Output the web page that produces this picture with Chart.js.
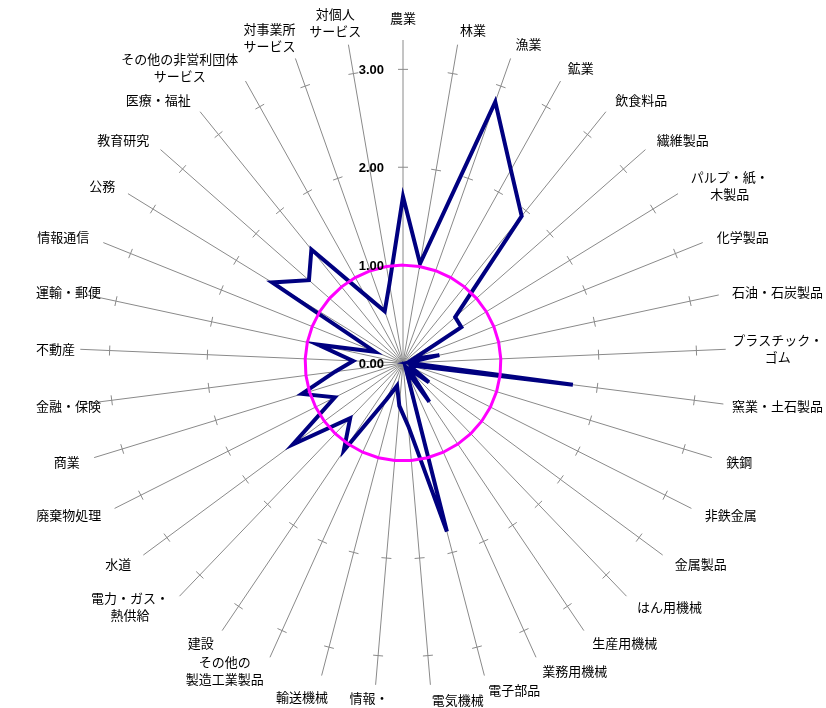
<!DOCTYPE html>
<html><head><meta charset="utf-8">
<script src="https://cdn.jsdelivr.net/npm/chart.js@4.4.1/dist/chart.umd.min.js"></script>
<style>html,body{margin:0;padding:0;background:#fff;overflow:hidden}#wrap{width:826px;height:708px;position:relative}</style>
</head><body><div id="wrap"><canvas id="c"></canvas></div>
<script>
const categories = [
  '農業','林業','漁業','鉱業','飲食料品','繊維製品',['パルプ・紙・','木製品'],'化学製品','石油・石炭製品',
  ['プラスチック・','ゴム'],'窯業・土石製品','鉄鋼','非鉄金属','金属製品','はん用機械','生産用機械','業務用機械',
  '電子部品','電気機械',['情報・','通信機器'],'輸送機械',['その他の','製造工業製品'],'建設',['電力・ガス・','熱供給'],
  '水道','廃棄物処理','商業','金融・保険','不動産','運輸・郵便','情報通信','公務','教育研究','医療・福祉',
  ['その他の非営利団体','サービス'],['対事業所','サービス'],['対個人','サービス']
];
const seriesValues = [
  1.70, 1.03, 2.83, 2.26, 1.93, 0.71, 0.70, 0.12, 0.38, 0.05,
  1.75, 0.08, 0.10, 0.33, 0.08, 0.48, 0.08, 1.78, 0.65, 0.44,
  0.24, 0.41, 1.08, 0.78, 1.40, 0.78, 1.08, 0.70, 0.51, 0.89,
  0.31, 1.57, 1.28, 1.49, 0.80, 0.56, 0.82
];
const baselineValues = [
  1,1,1,1,1,1,1,1,1,1, 1,1,1,1,1,1,1,1,1,1,
  1,1,1,1,1,1,1,1,1,1, 1,1,1,1,1,1,1
];
const tickValues = [0, 1, 2, 3];
const tickLabels = ['0.00', '1.00', '2.00', '3.00'];
const axisMax = 3.3;

const decorPlugin = {
  id: 'decor',
  beforeDatasetsDraw(chart) {
    const sc = chart.scales.r, ctx = chart.ctx;
    ctx.save();
    ctx.strokeStyle = '#8a8a8a';
    ctx.lineWidth = 1;
    for (let i = 0; i < categories.length; i++) {
      const a = sc.getIndexAngle(i), s = Math.sin(a), c = Math.cos(a);
      tickValues.forEach(v => {
        if (v === 0) return;
        const p = sc.getPointPosition(i, sc.getDistanceFromCenterForValue(v));
        ctx.beginPath();
        ctx.moveTo(p.x - 5 * c, p.y - 5 * s);
        ctx.lineTo(p.x + 5 * c, p.y + 5 * s);
        ctx.stroke();
      });
    }
    ctx.restore();
  },
  afterDatasetsDraw(chart) {
    const sc = chart.scales.r, ctx = chart.ctx;
    ctx.save();
    ctx.fillStyle = '#000';
    ctx.font = 'bold 13px "Liberation Sans", Arial, sans-serif';
    ctx.textAlign = 'right';
    ctx.textBaseline = 'middle';
    tickValues.forEach((v, k) => {
      const y = sc.yCenter - sc.getDistanceFromCenterForValue(v);
      ctx.fillText(tickLabels[k], sc.xCenter - 19, y + 1);
    });
    // category labels
    ctx.font = '13px "Noto Sans CJK JP", sans-serif';
    ctx.textAlign = 'center';
    const lineH = 17;
    for (let i = 0; i < categories.length; i++) {
      const lab = categories[i];
      const lines = Array.isArray(lab) ? lab : [lab];
      const a = sc.getIndexAngle(i), s = Math.sin(a), c = Math.cos(a);
      const end = sc.getPointPosition(i, sc.drawingArea);
      let w = 0;
      lines.forEach(t => { w = Math.max(w, ctx.measureText(t).width); });
      const h = lines.length * lineH;
      let cy = end.y - c * 15;
      let left;
      if (Math.abs(s) < 0.02) left = end.x - w / 2;
      else if (s > 0) left = end.x + 15 * s;
      else { const f = Math.min(1 - 15 * s / w, 0.5 - 1.5 * s); left = end.x - f * w; }
      left = Math.max(36, Math.min(823 - w, left));
      if (Math.abs(c) > 0.7 && left < end.x && left + w > end.x) cy -= 7 * Math.sign(c);
      const top = cy - h / 2;
      lines.forEach((t, k) => {
        ctx.fillText(t, left + w / 2, top + lineH * k + lineH / 2);
      });
    }
    ctx.restore();
  }
};

new Chart(document.getElementById('c'), {
  type: 'radar',
  data: {
    labels: categories,
    datasets: [
      { label: '基準', data: baselineValues, borderColor: '#ff00ff', borderWidth: 3, pointRadius: 0, fill: false, tension: 0, order: 0 },
      { label: '特化係数', data: seriesValues, borderColor: '#000080', borderWidth: 4, pointRadius: 0, fill: false, tension: 0, order: 1 }
    ]
  },
  options: {
    responsive: true,
    maintainAspectRatio: false,
    animation: false,
    layout: { padding: { top: 40, bottom: 22, left: 0, right: 20 } },
    plugins: { legend: { display: false }, tooltip: { enabled: false } },
    scales: {
      r: {
        min: 0, max: axisMax,
        ticks: { display: false, stepSize: 1 },
        grid: { display: false },
        angleLines: { display: true, color: '#8a8a8a', lineWidth: 1 },
        pointLabels: { display: false }
      }
    }
  },
  plugins: [decorPlugin]
});
</script></body></html>
